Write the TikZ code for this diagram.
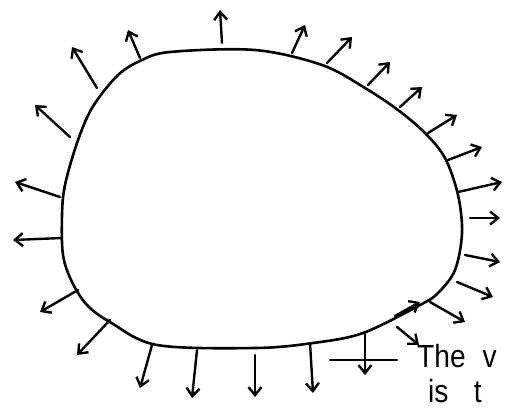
\documentclass[tikz,border=0pt]{standalone}
\usepackage{fontspec}
\setmainfont{Liberation Sans}
\usetikzlibrary{arrows.meta}
\tikzset{
  blobline/.style={line width=2.6pt, line join=round},
  vec/.style={line width=2.4pt, line cap=round, line join=round,
    -{Straight Barb[length=8pt,width=13pt,line width=2.4pt]}},
  hand/.style={font=\fontsize{32}{36}\selectfont, xscale=0.88, inner sep=0pt}
}
\begin{document}
\begin{tikzpicture}[x=1pt,y=-1pt]
\useasboundingbox (0,0) rectangle (510,410);
\fill[white] (0,0) rectangle (510,410);
% the closed curve
\draw[blobline] plot[smooth cycle, tension=0.55] coordinates {
  (62,215) (65,185) (77,143) (92,108) (117,76) (140,61) (170,52) (255,50)
  (322,65) (365,88) (398,110) (425,133) (445,158) (458,195) (462,233)
  (455,270) (438,293) (420,305) (363,333) (313,343) (255,348) (157,345)
  (110,322) (87,305) (72,282) (63,255)};
% arrowhead at the lower right of the curve
\coordinate (cA) at (395,316);
\coordinate (cB) at (420,302);
\draw[vec] (cA) -- (cB);
% outward arrows
\foreach \i/\ax/\ay/\bx/\by in {
  1/140/58/128/30, 2/222/43/220/10, 3/97/88/72/47, 4/70/137/35/105,
  5/60/197/15/182, 6/62/238/13/240, 7/78/290/40/312, 8/110/320/77/355,
  9/152/345/140/388, 10/197/350/192/398, 11/255/355/255/397,
  12/310/343/313/393, 13/365/333/365/375, 14/397/327/419/345,
  15/292/53/305/25, 16/327/63/352/37, 17/368/85/390/62, 18/400/107/422/87,
  19/428/133/457/115, 20/448/160/482/147, 21/458/192/502/182,
  22/470/218/500/218, 23/465/255/500/262, 24/457/282/493/297,
  25/430/302/465/322} {
  \coordinate (s\i) at (\ax,\ay);
  \coordinate (t\i) at (\bx,\by);
  \draw[vec] (s\i) -- (t\i);
}
% label and its leader line
\node[hand, anchor=base west] (lab1) at (417,367) {The\hspace{0.6em}v};
\node[hand, anchor=base west] (lab2) at (428,402) {is\hspace{0.9em}t};
\coordinate (l1) at (330,360);
\coordinate (l2) at (397,360);
\draw[line width=2.4pt, line cap=round] (l1) -- (l2);
\end{tikzpicture}
\end{document}
